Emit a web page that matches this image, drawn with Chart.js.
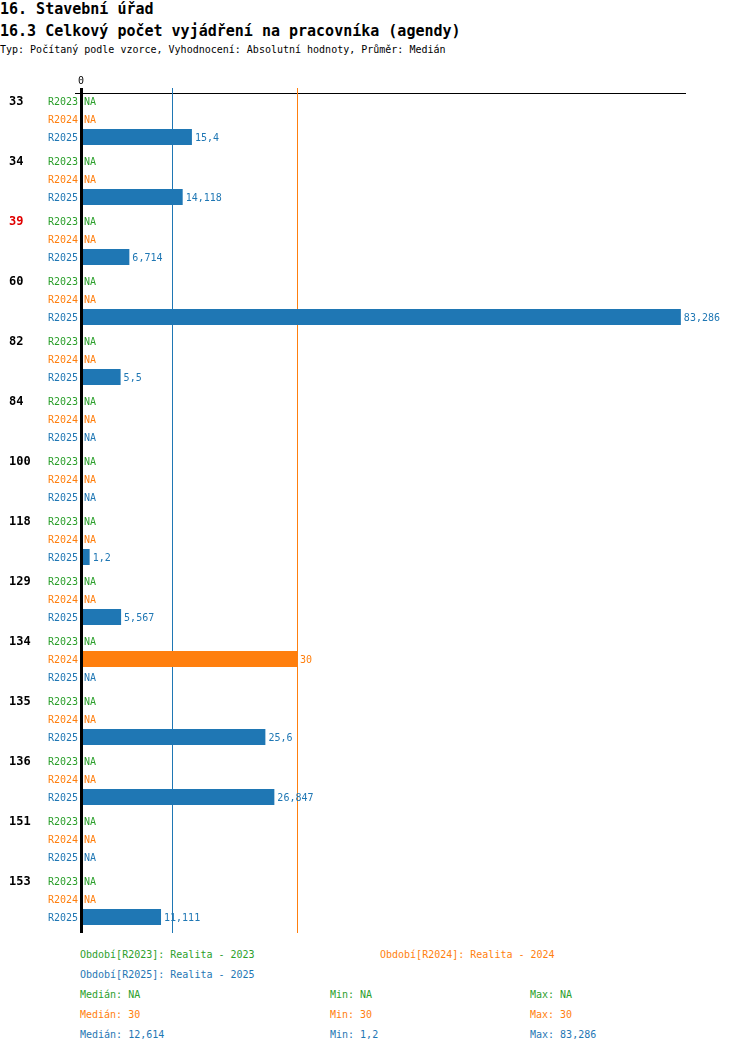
<!DOCTYPE html>
<html>
<head>
<meta charset="utf-8">
<script src="https://cdn.jsdelivr.net/npm/chart.js@4"></script>
<style>
body { margin: 0; background: #fff; font-family: "DejaVu Sans Mono", monospace; }
#wrap { position: absolute; left: 0; top: 0; width: 750px; height: 945px; }
.t { position: absolute; white-space: pre; }
.h1 { font-size: 15px; font-weight: bold; left: 0; }
.sub { font-size: 10px; left: 0; }
.lg { font-size: 10px; }
.g { color: #2ca02c; } .o { color: #ff7f0e; } .b { color: #1f77b4; }
</style>
</head>
<body>
<div class="t h1" style="top:0px">16. Stavební úřad</div>
<div class="t h1" style="top:22px">16.3 Celkový počet vyjádření na pracovníka (agendy)</div>
<div class="t sub" style="top:44px">Typ: Počítaný podle vzorce, Vyhodnocení: Absolutní hodnoty, Průměr: Medián</div>
<div id="wrap"><canvas id="chart"></canvas></div>
<div id="legend"></div>
<script>
var categories = ['33', '34', '39', '60', '82', '84', '100', '118', '129', '134', '135', '136', '151', '153'];
var highlighted = ['39'];
var seriesNames = ['R2023', 'R2024', 'R2025'];
var seriesTitles = ['Realita - 2023', 'Realita - 2024', 'Realita - 2025'];
var seriesColors = ['#2ca02c', '#ff7f0e', '#1f77b4'];
var r2023 = [null, null, null, null, null, null, null, null, null, null, null, null, null, null];
var r2024 = [null, null, null, null, null, null, null, null, null, 30, null, null, null, null];
var r2025 = [15.4, 14.118, 6.714, 83.286, 5.5, null, null, 1.2, 5.567, null, 25.6, 26.847, null, 11.111];
var medians = [null, 30, 12.614];
var mins = [null, 30, 1.2];
var maxs = [null, 30, 83.286];

function fmt(v) {
    return v === null ? 'NA' : String(v).replace('.', ',');
}

// legend and statistics under the chart
var legend = document.getElementById('legend');
var legendPos = [[80, 949], [380, 949], [80, 969]];
var cls = ['g', 'o', 'b'];
seriesNames.forEach(function (s, i) {
    var d = document.createElement('div');
    d.className = 't lg ' + cls[i];
    d.style.left = legendPos[i][0] + 'px';
    d.style.top = legendPos[i][1] + 'px';
    d.textContent = 'Období[' + s + ']: ' + seriesTitles[i];
    legend.appendChild(d);
    var stats = [['Medián: ', medians[i], 80], ['Min: ', mins[i], 330], ['Max: ', maxs[i], 530]];
    stats.forEach(function (st) {
        var e = document.createElement('div');
        e.className = 't lg ' + cls[i];
        e.style.left = st[2] + 'px';
        e.style.top = (989 + i * 20) + 'px';
        e.textContent = st[0] + fmt(st[1]);
        legend.appendChild(e);
    });
});

var labelPlugin = {
    id: 'labels',
    beforeDatasetsDraw: function (chart) {
        var ctx = chart.ctx, a = chart.chartArea, x = chart.scales.x;
        ctx.save();
        // top axis line
        ctx.fillStyle = '#000';
        ctx.fillRect(a.left - 6, a.top + 4, a.right - a.left + 6, 1);
        // median lines
        medians.forEach(function (m, i) {
            if (m === null) return;
            var px = Math.round(x.getPixelForValue(m));
            ctx.fillStyle = seriesColors[i];
            ctx.fillRect(px, a.top - 1, 1, a.bottom - a.top + 5);
        });
        ctx.restore();
    },
    afterDatasetsDraw: function (chart) {
        var ctx = chart.ctx, a = chart.chartArea, x = chart.scales.x, y = chart.scales.y;
        var group = y.getPixelForValue(1) - y.getPixelForValue(0);
        var row = group * 0.9 / 3;
        ctx.save();
        // zero line
        ctx.fillStyle = '#000';
        ctx.fillRect(Math.round(x.getPixelForValue(0)) - 1, a.top - 1, 3, a.bottom - a.top + 5);
        ctx.font = '10px "DejaVu Sans Mono"';
        ctx.textBaseline = 'middle';
        ctx.textAlign = 'center';
        ctx.fillText('0', x.getPixelForValue(0), a.top - 8);
        chart.data.datasets.forEach(function (ds, i) {
            ds.data.forEach(function (v, j) {
                var cy = y.getPixelForValue(j) + (i - 1) * row + 1;
                ctx.font = '10px "DejaVu Sans Mono"';
                ctx.fillStyle = seriesColors[i];
                ctx.textAlign = 'right';
                ctx.fillText(seriesNames[i], a.left - 3, cy);
                ctx.textAlign = 'left';
                var end = v === null ? x.getPixelForValue(0) + 3 : x.getPixelForValue(v) + 3;
                ctx.fillText(fmt(v), end, cy);
                if (i === 0) {
                    ctx.font = 'bold 12px "DejaVu Sans Mono"';
                    ctx.fillStyle = highlighted.indexOf(categories[j]) >= 0 ? '#e00000' : '#000';
                    ctx.fillText(categories[j], 9, cy);
                }
            });
        });
        ctx.restore();
    }
};

var ctx = document.getElementById('chart').getContext('2d');
new Chart(ctx, {
    type: 'bar',
    data: {
        labels: categories,
        datasets: [r2023, r2024, r2025].map(function (values, i) {
            return {
                label: seriesNames[i],
                data: values,
                backgroundColor: seriesColors[i],
                borderWidth: 0,
                categoryPercentage: 0.9,
                barPercentage: 16 / 18
            };
        })
    },
    options: {
        indexAxis: 'y',
        responsive: true,
        maintainAspectRatio: false,
        animation: false,
        layout: { padding: { left: 81, right: 64, top: 89, bottom: 16 } },
        plugins: { legend: { display: false }, tooltip: { enabled: false } },
        scales: {
            x: { display: false, min: 0, max: 84 },
            y: { display: false }
        }
    },
    plugins: [labelPlugin]
});
</script>
</body>
</html>
